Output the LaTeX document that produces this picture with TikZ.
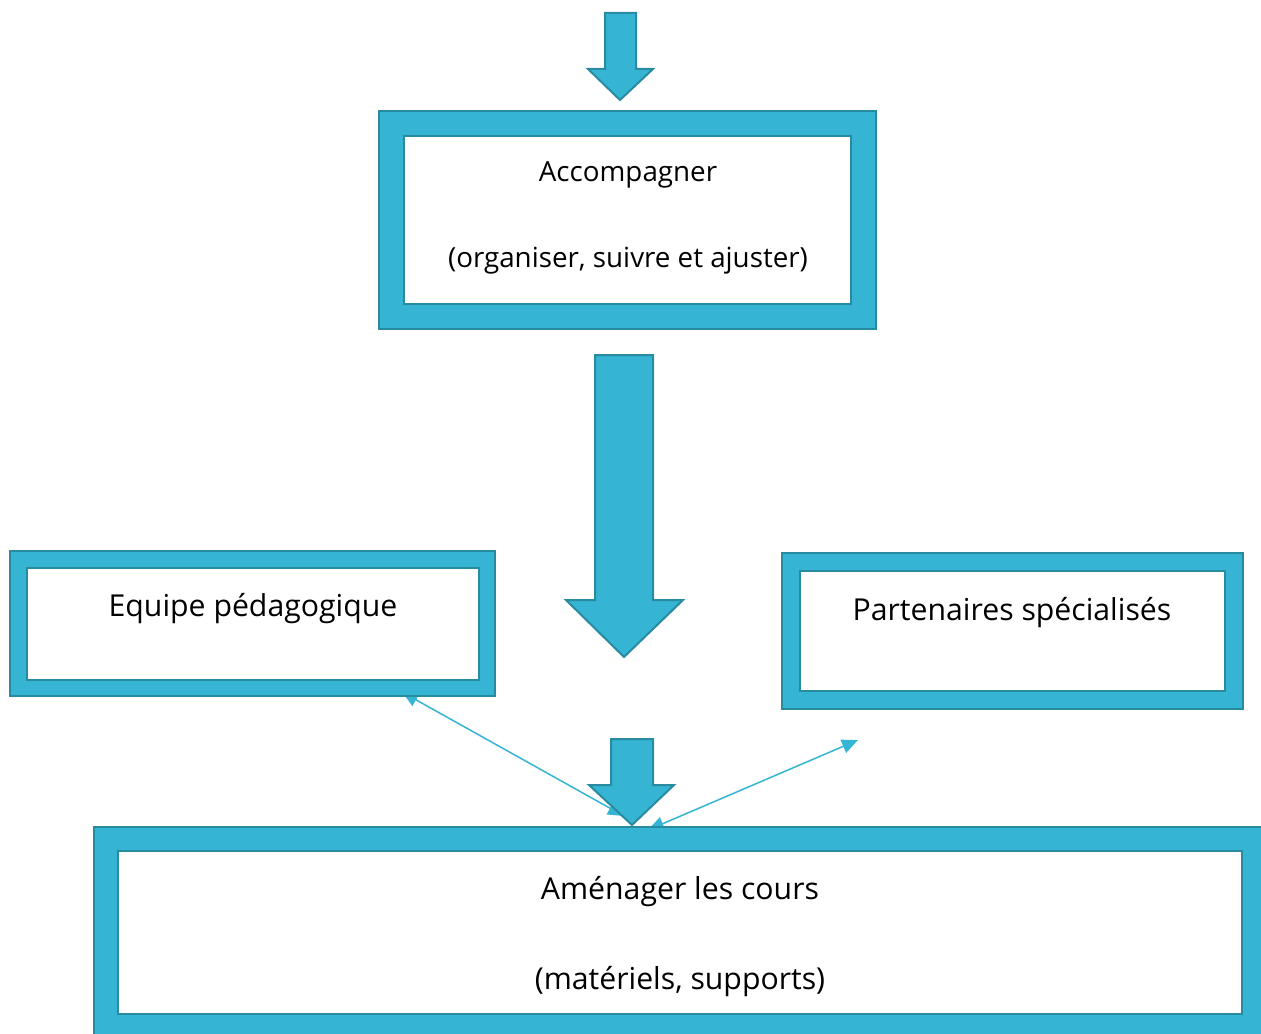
\documentclass[tikz,border=0pt]{standalone}
\usepackage{fontspec}
\setmainfont{Open Sans}
\usetikzlibrary{arrows.meta,positioning}

\definecolor{framecyan}{RGB}{53,181,211}
\definecolor{framedark}{RGB}{41,139,160}

\tikzset{
  frame/.style={draw=framedark, line width=0.04cm, double=framecyan,
    double distance=#1, fill=white, inner sep=0pt, line join=miter},
  lbl/.style={font=\fontsize{17.2}{20}\selectfont, inner sep=0pt},
  lblsmall/.style={font=\fontsize{15.8}{19}\selectfont, inner sep=0pt},
  blockarrow/.style={fill=framecyan, draw=framedark, line width=0.04cm, line join=miter},
  link/.style={draw=framecyan, line width=0.03cm, {Triangle[length=0.32cm,width=0.28cm]}-{Triangle[length=0.32cm,width=0.28cm]}},
}

\begin{document}
\begin{tikzpicture}[x=0.02cm,y=-0.02cm]
\clip (0,0) rectangle (1261,1034);

% free ends of the thin links
\coordinate (eq-end) at (402,692);
\coordinate (mid-left) at (624,816);
\coordinate (mid-right) at (648,830);
\coordinate (free-end) at (858,740);

\draw[link] (eq-end) -- (mid-left);
\draw[link] (mid-right) -- (free-end);

% boxes
\node[frame=0.46cm, minimum width=9.44cm, minimum height=3.86cm] (accomp) at (627.5,220) {};
\node[frame=0.29cm, minimum width=9.37cm, minimum height=2.57cm] (equipe) at (252.75,623.75) {};
\node[frame=0.32cm, minimum width=8.86cm, minimum height=2.77cm] (partners) at (1012.5,631) {};
\node[frame=0.44cm, minimum width=22.96cm, minimum height=3.74cm] (amenager) at (680,932.5) {};

% texts
\node[lblsmall] (accomp-title) at (628,175) {Accompagner};
\node[lblsmall] (accomp-sub) at (628,261) {(organiser, suivre et ajuster)};
\node[lbl] (equipe-title) at (253,609) {Equipe pédagogique};
\node[lbl] (partners-title) at (1012,613) {Partenaires spécialisés};
\node[lbl] (amenager-title) at (680,892) {Aménager les cours};
\node[lbl] (amenager-sub) at (680,982) {(matériels, supports)};

% block arrows
\draw[blockarrow] (605,13) -- (636,13) -- (636,69) -- (653,69) -- (620,100)
  -- (588,69) -- (605,69) -- cycle;
\draw[blockarrow] (595,355) -- (653,355) -- (653,600) -- (683,600) -- (624,657)
  -- (566,600) -- (595,600) -- cycle;
\draw[blockarrow] (611,739) -- (653,739) -- (653,785) -- (674,785) -- (632,825)
  -- (589,785) -- (611,785) -- cycle;
\end{tikzpicture}
\end{document}
